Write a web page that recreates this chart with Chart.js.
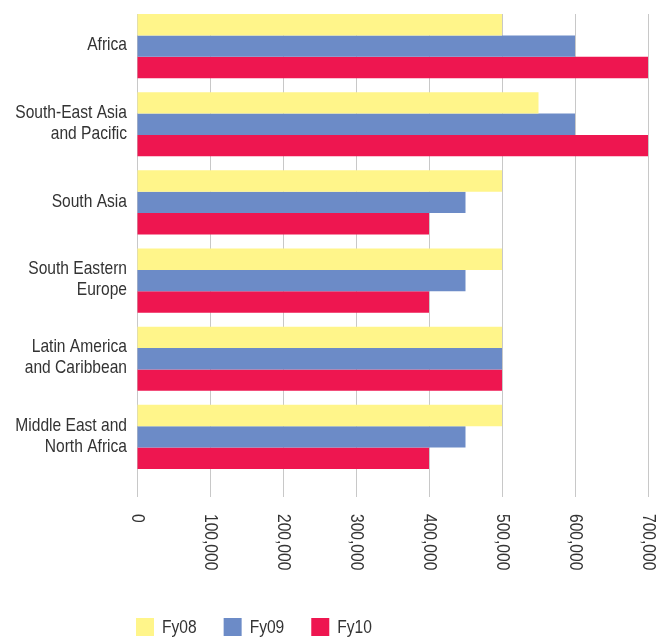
<!DOCTYPE html>
<html>
<head>
<meta charset="utf-8">
<script src="https://cdn.jsdelivr.net/npm/chart.js@4"></script>
<style>
  body { margin: 0; background: #fff; }
</style>
</head>
<body>
<canvas id="chart" width="670" height="637"></canvas>
<script>
const regions = [
  'Africa',
  ['South-East Asia', 'and Pacific'],
  'South Asia',
  ['South Eastern', 'Europe'],
  ['Latin America', 'and Caribbean'],
  ['Middle East and', 'North Africa']
];
const seriesNames = ['Fy08', 'Fy09', 'Fy10'];
const fy08 = [500000, 550000, 500000, 500000, 500000, 500000];
const fy09 = [600000, 600000, 450000, 450000, 500000, 450000];
const fy10 = [700000, 700000, 400000, 400000, 500000, 400000];
const xTicks = [0, 100000, 200000, 300000, 400000, 500000, 600000, 700000];

const colors = ['#fff58a', '#6c8bc7', '#ee1650'];
const textColor = '#333';
const font = "19px 'Liberation Sans', Arial, sans-serif";
const narrow = 0.82; // the original uses a condensed face

// all the text is drawn here so it can be squeezed like the original font
const textPlugin = {
  id: 'textPlugin',
  beforeDatasetsDraw(chart) {
    // keep the grid off the strip above the first bars
    const ctx = chart.ctx;
    const a = chart.chartArea;
    ctx.save();
    ctx.fillStyle = '#fff';
    ctx.fillRect(a.left - 2, 0, a.right - a.left + 4, 14);
    ctx.restore();
  },
  afterDraw(chart) {
    const ctx = chart.ctx;
    const x = chart.scales.x;
    const y = chart.scales.y;
    ctx.save();
    ctx.fillStyle = textColor;
    ctx.font = font;

    // category labels
    ctx.textAlign = 'right';
    ctx.textBaseline = 'middle';
    regions.forEach((label, i) => {
      const lines = Array.isArray(label) ? label : [label];
      const cy = y.getPixelForValue(i) - 1;
      lines.forEach((line, j) => {
        ctx.save();
        ctx.translate(127, cy + (j - (lines.length - 1) / 2) * 21);
        ctx.scale(narrow, 1);
        ctx.fillText(line, 0, 0);
        ctx.restore();
      });
    });

    // x labels, reading top to bottom
    ctx.textAlign = 'left';
    xTicks.forEach(v => {
      ctx.save();
      ctx.translate(x.getPixelForValue(v), 514);
      ctx.rotate(Math.PI / 2);
      ctx.scale(narrow, 1);
      ctx.fillText(v.toLocaleString('en-US'), 0, 0);
      ctx.restore();
    });

    // legend
    let lx = 136;
    ctx.textBaseline = 'alphabetic';
    chart.data.datasets.forEach(ds => {
      ctx.fillStyle = ds.backgroundColor;
      ctx.fillRect(lx, 618, 18, 18);
      lx += 18 + 8;
      ctx.fillStyle = textColor;
      ctx.save();
      ctx.translate(lx, 633);
      ctx.scale(narrow, 1);
      ctx.fillText(ds.label, 0, 0);
      ctx.restore();
      lx += ctx.measureText(ds.label).width * narrow + 27;
    });
    ctx.restore();
  }
};

const data = [fy08, fy09, fy10];

new Chart(document.getElementById('chart'), {
  type: 'bar',
  data: {
    labels: regions,
    datasets: seriesNames.map((name, i) => ({
      label: name,
      data: data[i],
      backgroundColor: colors[i],
      borderWidth: 0
    }))
  },
  options: {
    indexAxis: 'y',
    responsive: false,
    animation: false,
    layout: { padding: { top: 7, right: 22, left: 0, bottom: 0 } },
    datasets: { bar: { categoryPercentage: 0.82, barPercentage: 1 } },
    scales: {
      x: {
        min: 0,
        max: 700000,
        afterBuildTicks(scale) { scale.ticks = xTicks.map(v => ({ value: v })); },
        afterFit(scale) { scale.height = 161; },
        grid: { color: '#c8c8c8', lineWidth: 1, drawTicks: true, tickLength: 21 },
        border: { display: false },
        ticks: { display: false }
      },
      y: {
        afterFit(scale) { scale.width = 137; },
        grid: { display: false },
        border: { display: false },
        ticks: { display: false }
      }
    },
    plugins: {
      legend: { display: false },
      tooltip: { enabled: false }
    }
  },
  plugins: [textPlugin]
});
</script>
</body>
</html>
